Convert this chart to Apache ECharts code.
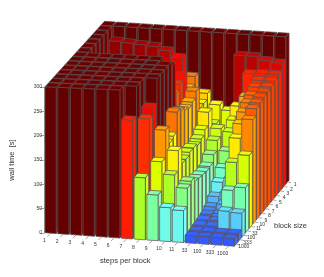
<!DOCTYPE html>
<html><head><meta charset="utf-8">
<style>html,body{margin:0;padding:0;background:#fff}#c{width:324px;height:277px}</style>
<script src="https://cdn.jsdelivr.net/npm/echarts@6/dist/echarts.min.js"></script>
</head><body><div id="c"></div>
<script>
const stepsPerBlock = ['1','2','3','4','5','6','7','8','9','10','11','33','100','333','1000'];
const blockSizes = ['1000','333','100','33','11','10','9','8','7','6','5','4','3','2','1'];
const t1000 = [300,300,300,300,300,300,240,125,92,68,64,15,15,15,15];
const t333  = [300,300,300,300,300,300,300,235,150,125,100,16,16,16,16];
const t100  = [300,300,300,300,300,300,300,250,205,165,105,18,18,50,48];
const t33   = [300,300,300,300,300,300,300,300,170,130,95,20,20,83,90];
const t11   = [300,300,300,300,300,300,300,300,175,130,92,22,25,130,146];
const t10   = [300,300,300,300,300,300,300,300,215,135,90,28,35,170,209];
const t9    = [300,300,300,300,300,300,300,300,208,135,88,40,50,190,222];
const t8    = [300,300,300,300,300,300,300,290,200,130,90,60,70,205,225];
const t7    = [300,225,225,225,225,225,225,225,195,135,105,80,95,215,228];
const t6    = [300,225,225,225,225,225,225,235,200,145,125,105,130,222,230];
const t5    = [300,230,230,235,235,235,235,244,213,172,140,135,165,230,232];
const t4    = [300,200,200,200,200,200,200,200,170,130,88,150,200,235,235];
const t3    = [300,200,200,200,200,200,200,200,170,130,90,170,238,240,240];
const t2    = [300,278,276,274,272,265,252,215,182,160,150,265,265,258,255];
const t1    = [300,300,300,300,300,300,300,300,300,300,300,300,300,300,300];
const wallTime = [t1000,t333,t100,t33,t11,t10,t9,t8,t7,t6,t5,t4,t3,t2,t1];

const colorStops = [[0,'#2f55ff'],[15,'#325aff'],[40,'#4db8ff'],[65,'#6efaf0'],[90,'#78ffaa'],[125,'#aaff28'],[150,'#dcff00'],[168,'#fff000'],[205,'#ff9600'],[228,'#ff4600'],[245,'#ff0a00'],[272,'#a00000'],[300,'#640000']];
function colorOf(z){
  for(let i=1;i<colorStops.length;i++){
    if(z<=colorStops[i][0]){
      const a=colorStops[i-1],b=colorStops[i];
      return echarts.color.lerp((z-a[0])/(b[0]-a[0]),[a[1],b[1]]);
    }
  }
  return colorStops[colorStops.length-1][1];
}
const nC=stepsPerBlock.length,nR=blockSizes.length;
const floor={fl:[44,233],fr:[235,246.5],bl:[104,161],br:[290,180]};
const roof ={fl:[44,87],fr:[235,95],bl:[104,21],br:[290,33]};
const G={left:44,top:87,h:146};
function bil(s,u,v){
  const f=(k)=>(1-v)*((1-u)*s.fl[k]+u*s.fr[k])+v*((1-u)*s.bl[k]+u*s.br[k]);
  return [f(0),f(1)];
}
function project(api,c,r,z){
  const u=c/nC,v=r/nR,t=z/300;
  const a=bil(floor,u,v),b=bil(roof,u,v);
  const px=a[0]+(b[0]-a[0])*t, py=a[1]+(b[1]-a[1])*t;
  return api.coord([px-G.left,(G.top+G.h-py)/G.h*300]);
}
const barData=[];
for(let r=nR-1;r>=0;r--)for(let c=0;c<nC;c++)barData.push([c,r,wallTime[r][c]]);
const edge={stroke:'#5a5050',lineWidth:0.7,lineJoin:'round'};
function renderBar(params,api){
  const c=api.value(0),r=api.value(1),z=api.value(2);
  const g=0.06,x0=c+g,x1=c+1-g,y0=r+g,y1=r+1-g;
  const P=(x,y,h)=>project(api,x,y,h);
  const col=colorOf(z);
  const side=echarts.color.lift(col,-0.18),top=echarts.color.lift(col,-0.08);
  const poly=(pts,fill)=>({type:'polygon',shape:{points:pts},style:Object.assign({fill},edge)});
  return {type:'group',children:[
    poly([P(x1,y0,0),P(x1,y1,0),P(x1,y1,z),P(x1,y0,z)],side),
    poly([P(x0,y0,0),P(x1,y0,0),P(x1,y0,z),P(x0,y0,z)],col),
    poly([P(x0,y0,z),P(x1,y0,z),P(x1,y1,z),P(x0,y1,z)],top)
  ]};
}
const axisFont='5px "Liberation Sans"';
function tickLabel(api,a,b,text,dx,dy){
  return {type:'group',children:[
    {type:'line',shape:{x1:a[0],y1:a[1],x2:b[0],y2:b[1]},style:{stroke:'#444',lineWidth:0.5}},
    {type:'text',style:{text,x:a[0]+dx,y:a[1]+dy,font:axisFont,fill:'#333',textAlign:'center',textVerticalAlign:'middle'}}
  ]};
}
function renderXTick(params,api){
  const c=api.value(0);
  const a=project(api,c+0.5,0,0);
  return tickLabel(api,a,[a[0]-3,a[1]+3],stepsPerBlock[c],-6,7.5);
}
function renderYTick(params,api){
  const r=api.value(0);
  const a=project(api,nC,r+0.5,0);
  return tickLabel(api,a,[a[0]+3,a[1]+0.5],blockSizes[r],7,2.5);
}
const chart=echarts.init(document.getElementById('c'),null,{renderer:'canvas'});
chart.setOption({
  animation:false,
  backgroundColor:'#fff',
  grid:{left:G.left,top:G.top,height:G.h,width:280},
  xAxis:{type:'value',min:0,max:280,show:false},
  yAxis:{type:'value',min:0,max:300,interval:50,
    name:'wall time  [s]',nameLocation:'middle',nameGap:28,nameRotate:90,
    nameTextStyle:{fontSize:7.5,fontFamily:'Liberation Sans',color:'#333'},
    axisLine:{show:true,lineStyle:{color:'#444',width:0.5}},
    axisTick:{show:true,length:4,lineStyle:{color:'#444',width:0.5}},
    axisLabel:{fontSize:5,fontFamily:'Liberation Sans',color:'#333',margin:2},
    splitLine:{show:false}},
  graphic:[
    {type:'text',left:100,top:257,style:{text:'steps per block',font:'7.5px "Liberation Sans"',fill:'#333'}},
    {type:'text',left:274,top:222,style:{text:'block size',font:'7.5px "Liberation Sans"',fill:'#333'}}
  ],
  series:[
    {type:'custom',renderItem:renderXTick,data:stepsPerBlock.map((s,i)=>[i]),encode:{x:0},silent:true},
    {type:'custom',renderItem:renderYTick,data:blockSizes.map((s,i)=>[i]),encode:{x:0},silent:true},
    {type:'custom',renderItem:renderBar,data:barData,encode:{x:0,y:2},silent:true}
  ]
});
</script></body></html>
